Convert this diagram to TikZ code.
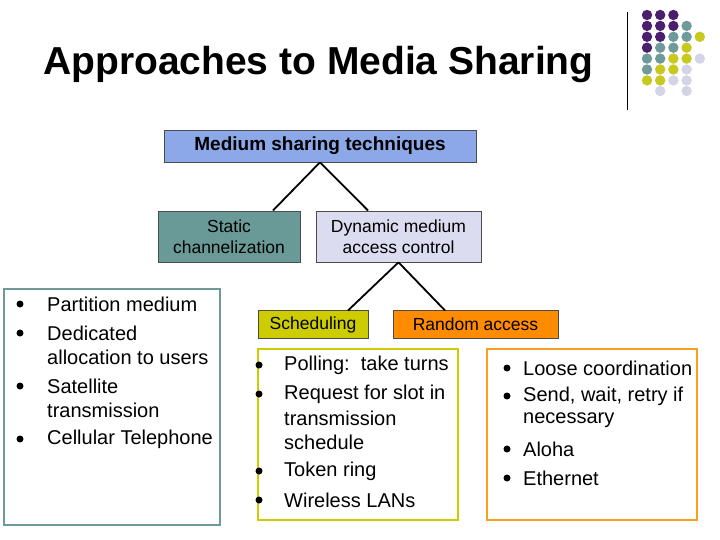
\documentclass[tikz,border=0pt]{standalone}
\usepackage{fontspec}
\setmainfont{Liberation Sans}
\definecolor{pur}{HTML}{4A1F6E}
\definecolor{teal}{HTML}{6E9A9A}
\definecolor{yel}{HTML}{C8C81E}
\definecolor{lav}{HTML}{D4D4E8}
\definecolor{topb}{HTML}{8CA8E8}
\definecolor{stat}{HTML}{6A9A98}
\definecolor{dyn}{HTML}{DCDCF0}
\definecolor{sch}{HTML}{CCCC00}
\definecolor{ran}{HTML}{FF8C00}
\definecolor{ranb}{HTML}{F5A020}
\begin{document}
\begin{tikzpicture}[x=1pt,y=-1pt,
  box/.style={draw=black!70,line width=0.6pt,inner sep=0pt,align=center},
  lst/.style={anchor=west,inner sep=0pt,font=\fontsize{20}{20}\selectfont},
  bul/.style={fill=black,circle,inner sep=0pt,minimum size=7pt},
  con/.style={line width=1.8pt}]
\useasboundingbox (0,0) rectangle (720,540);
\fill[white] (0,0) rectangle (720,540);
\node[anchor=west,inner sep=0pt,font=\bfseries\fontsize{39}{39}\selectfont] (title) at (43,65) {Approaches to Media Sharing};
\draw[line width=1pt] (627,12) coordinate (v1) -- (627,110) coordinate (v2);
% dots
\foreach \r/\cols in {0/{pur,pur,pur},1/{pur,pur,pur,teal},2/{pur,pur,teal,teal,yel},3/{pur,teal,teal,yel},4/{teal,teal,yel,yel,lav},5/{teal,yel,yel,lav},6/{yel,yel,lav,lav}}{
  \foreach \c [count=\i from 0] in \cols {\fill[\c] (647+13.2*\i,15+10.9*\r) circle (5.2);}}
\fill[lav] (660.2,91) circle (5.2);
\fill[lav] (686.6,91) circle (5.2);
% boxes
\node[box,fill=topb,minimum width=312pt,minimum height=32pt,font=\bfseries\fontsize{19}{19}\selectfont] (top) at (320,146) {Medium sharing techniques};
\node[box,fill=stat,minimum width=142pt,minimum height=51pt,font=\fontsize{17.5}{21}\selectfont] (stat) at (229,236.5) {Static\\channelization};
\node[box,fill=dyn,minimum width=165pt,minimum height=51pt,font=\fontsize{17.5}{21}\selectfont] (dyn) at (398.5,236.5) {Dynamic medium\\access control};
\node[box,fill=sch,minimum width=110pt,minimum height=28pt,font=\fontsize{17.5}{18}\selectfont] (sch) at (313,324.5) {Scheduling};
\node[box,fill=ran,minimum width=165pt,minimum height=28pt,font=\fontsize{17.5}{18}\selectfont] (ran) at (475.5,324.5) {Random access};
\draw[con] (top.south) -- (273,210.5);
\draw[con] (top.south) -- (368,210.5);
\draw[con] (dyn.south) -- (348,310.5);
\draw[con] (dyn.south) -- (445,310.5);
% list boxes
\draw[teal,line width=2.5pt] (4,289) rectangle (220,525);
\draw[sch,line width=2.5pt] (258,349) rectangle (458,520);
\draw[ranb,line width=2.5pt] (487,349) rectangle (697,520);
% left list
\foreach \y in {304,333,386,439} \node[bul] at (20,\y) {};
\node[lst] at (47,304) {Partition medium};
\node[lst] at (47,333) {Dedicated};
\node[lst] at (47,357) {allocation to users};
\node[lst] at (47,386) {Satellite};
\node[lst] at (47,410) {transmission};
\node[lst] at (47,439) {Cellular Telephone};
% middle list
\foreach \y in {365,394,471,500} \node[bul] at (259,\y) {};
\node[lst] at (284,365) {Polling:\ \ take turns};
\node[lst] at (284,394) {Request for slot in};
\node[lst] at (284,418) {transmission};
\node[lst] at (284,442) {schedule};
\node[lst] at (284,471) {Token ring};
\node[lst] at (284,500) {Wireless LANs};
% right list
\foreach \y in {368,396,449,478} \node[bul] at (507,\y) {};
\node[lst] at (523,368) {Loose coordination};
\node[lst] at (523,396) {Send, wait, retry if};
\node[lst] at (523,420) {necessary};
\node[lst] at (523,449) {Aloha};
\node[lst] at (523,478) {Ethernet};
\end{tikzpicture}
\end{document}
